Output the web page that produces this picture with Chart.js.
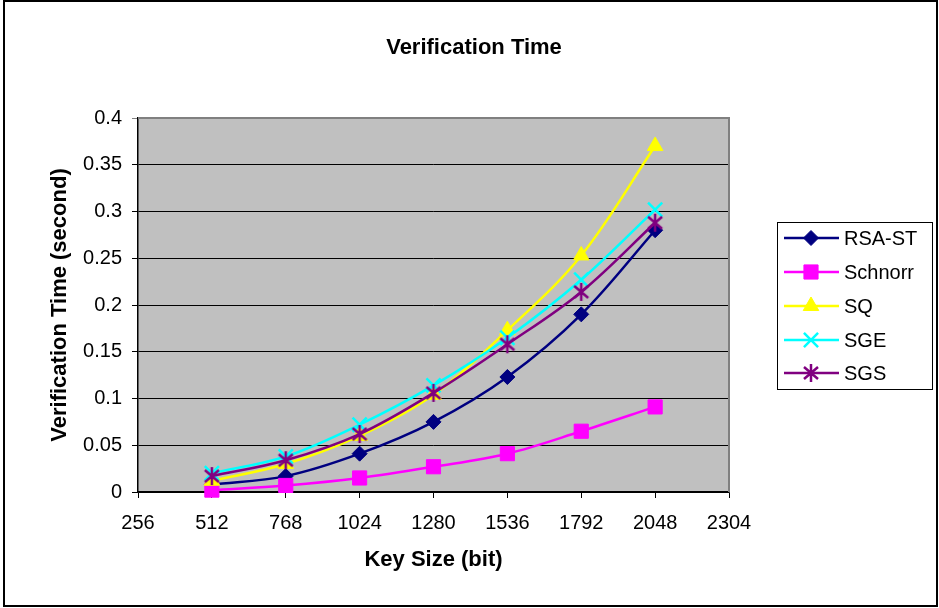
<!DOCTYPE html>
<html>
<head>
<meta charset="utf-8">
<script src="https://cdn.jsdelivr.net/npm/chart.js@4.4.1/dist/chart.umd.min.js"></script>
<style>
  html, body { margin: 0; padding: 0; background: #fff; }
  #wrap { width: 939px; height: 608px; position: relative; }
</style>
</head>
<body>
<div id="wrap"><canvas id="verifChart" width="939" height="608"></canvas></div>
<script>
const keySizes = [512, 768, 1024, 1280, 1536, 1792, 2048];
const rsaSt   = [0.008, 0.017, 0.041, 0.075, 0.123, 0.190, 0.280];
const schnorr = [0.002, 0.007, 0.015, 0.027, 0.041, 0.065, 0.091];
const sq      = [0.012, 0.030, 0.060, 0.104, 0.173, 0.253, 0.370];
const sge     = [0.020, 0.038, 0.072, 0.114, 0.165, 0.227, 0.302];
const sgs     = [0.017, 0.034, 0.062, 0.106, 0.158, 0.214, 0.288];
const seriesNames = ["RSA-ST", "Schnorr", "SQ", "SGE", "SGS"];
const xTickLabels = ["256", "512", "768", "1024", "1280", "1536", "1792", "2048", "2304"];
const yTickLabels = ["0", "0.05", "0.1", "0.15", "0.2", "0.25", "0.3", "0.35", "0.4"];
const chartTitle = "Verification Time";

const FONT = "'Liberation Sans', Arial, sans-serif";

// asterisk marker for SGS (X with a vertical bar)
function makeAsterisk(color) {
  const c = document.createElement("canvas");
  c.width = 18; c.height = 20;
  const g = c.getContext("2d");
  g.strokeStyle = color; g.lineWidth = 2.5; g.lineCap = "butt";
  g.beginPath();
  g.moveTo(2, 4); g.lineTo(16, 16);
  g.moveTo(16, 4); g.lineTo(2, 16);
  g.moveTo(9, 1); g.lineTo(9, 19);
  g.stroke();
  return c;
}
const asterisk = makeAsterisk("#800080");

const styles = [
  { color: "#000080", point: "rectRot", radius: 7.5, bw: 1 },
  { color: "#FF00FF", point: "rect", radius: 10, bw: 1 },
  { color: "#FFFF00", point: "triangle", radius: 9, bw: 1 },
  { color: "#00FFFF", point: "crossRot", radius: 10, bw: 2.5 },
  { color: "#800080", point: asterisk, radius: 9, bw: 1 }
];
const values = [rsaSt, schnorr, sq, sge, sgs];

const datasets = values.map((vals, i) => ({
  label: seriesNames[i],
  data: vals.map((v, j) => ({ x: keySizes[j], y: v })),
  showLine: true,
  borderColor: styles[i].color,
  backgroundColor: styles[i].color,
  borderWidth: 2.5,
  tension: 0.35,
  pointStyle: styles[i].point,
  pointRadius: styles[i].radius,
  pointHoverRadius: styles[i].radius,
  pointBorderWidth: styles[i].bw,
  pointBorderColor: styles[i].color,
  pointBackgroundColor: styles[i].color,
  order: values.length - i,
  clip: false
}));

const plotFrame = {
  id: "plotFrame",
  beforeDraw(chart) {
    const { ctx, chartArea: a } = chart;
    ctx.save();
    ctx.fillStyle = "#C0C0C0";
    ctx.fillRect(a.left, a.top, a.right - a.left, a.bottom - a.top);
    ctx.restore();
  },
  beforeDatasetsDraw(chart) {
    const { ctx, chartArea: a } = chart;
    ctx.save();
    ctx.strokeStyle = "#808080";
    ctx.lineWidth = 2;
    ctx.beginPath();
    ctx.moveTo(a.left, a.top);
    ctx.lineTo(a.right, a.top);
    ctx.lineTo(a.right, a.bottom);
    ctx.stroke();
    ctx.restore();
  },
  afterDraw(chart) {
    const ctx = chart.ctx;
    ctx.save();
    // outer frame
    ctx.strokeStyle = "#000";
    ctx.lineWidth = 2;
    ctx.strokeRect(4, 1, 933, 605);
    // chart title, centred on the whole picture rather than the plot
    ctx.fillStyle = "#000";
    ctx.font = "bold 22px " + FONT;
    ctx.textAlign = "center";
    ctx.textBaseline = "middle";
    ctx.fillText(chartTitle, 474, 48);
    // legend box
    ctx.textAlign = "left";
    ctx.lineWidth = 1;
    ctx.strokeRect(777.5, 222.5, 155, 167);
    const rowY = [238, 272, 306, 340, 373];
    ctx.font = "20px " + FONT;
    seriesNames.forEach((name, i) => {
      const s = styles[i], y = rowY[i];
      ctx.strokeStyle = s.color;
      ctx.fillStyle = s.color;
      ctx.lineWidth = 2.5;
      ctx.beginPath();
      ctx.moveTo(784, y);
      ctx.lineTo(839, y);
      ctx.stroke();
      ctx.lineWidth = s.bw;
      Chart.helpers.drawPoint(ctx, { pointStyle: s.point, radius: s.radius, rotation: 0, borderWidth: s.bw }, 811, y);
      ctx.fillStyle = "#000";
      ctx.fillText(name, 844, y + 1);
    });
    ctx.restore();
  }
};

new Chart(document.getElementById("verifChart").getContext("2d"), {
  type: "scatter",
  data: { datasets },
  plugins: [plotFrame],
  options: {
    responsive: false,
    animation: false,
    events: [],
    layout: { padding: { left: 0, right: 210, top: 118, bottom: 0 } },
    plugins: {
      legend: { display: false },
      tooltip: { enabled: false },
      title: { display: false }
    },
    scales: {
      x: {
        type: "linear",
        min: 256, max: 2304,
        afterFit(scale) { scale.height = 116; },
        ticks: {
          stepSize: 256,
          color: "#000",
          padding: 13,
          maxRotation: 0,
          font: { family: FONT, size: 20 },
          callback: (v, i) => xTickLabels[i]
        },
        grid: { drawOnChartArea: false, drawTicks: true, tickLength: 6, color: "#000" },
        border: { color: "#000", width: 1.5 },
        title: {
          display: true,
          text: "Key Size (bit)",
          color: "#000",
          font: { family: FONT, size: 22, weight: "bold" },
          padding: { top: 0, bottom: 35 }
        }
      },
      y: {
        min: 0, max: 0.4,
        afterFit(scale) { scale.width = 138; },
        ticks: {
          stepSize: 0.05,
          color: "#000",
          padding: 10,
          font: { family: FONT, size: 20 },
          callback: (v, i) => yTickLabels[i]
        },
        grid: {
          color: ctx => (ctx.tick && Math.abs(ctx.tick.value - 0.4) < 1e-9) ? "#808080" : "#000",
          lineWidth: 1,
          tickLength: 6
        },
        border: { color: "#000", width: 1.5 },
        title: {
          display: true,
          text: "Verification Time (second)",
          color: "#000",
          font: { family: FONT, size: 22, weight: "bold" },
          padding: { top: 47, bottom: 0 }
        }
      }
    }
  }
});
</script>
</body>
</html>
